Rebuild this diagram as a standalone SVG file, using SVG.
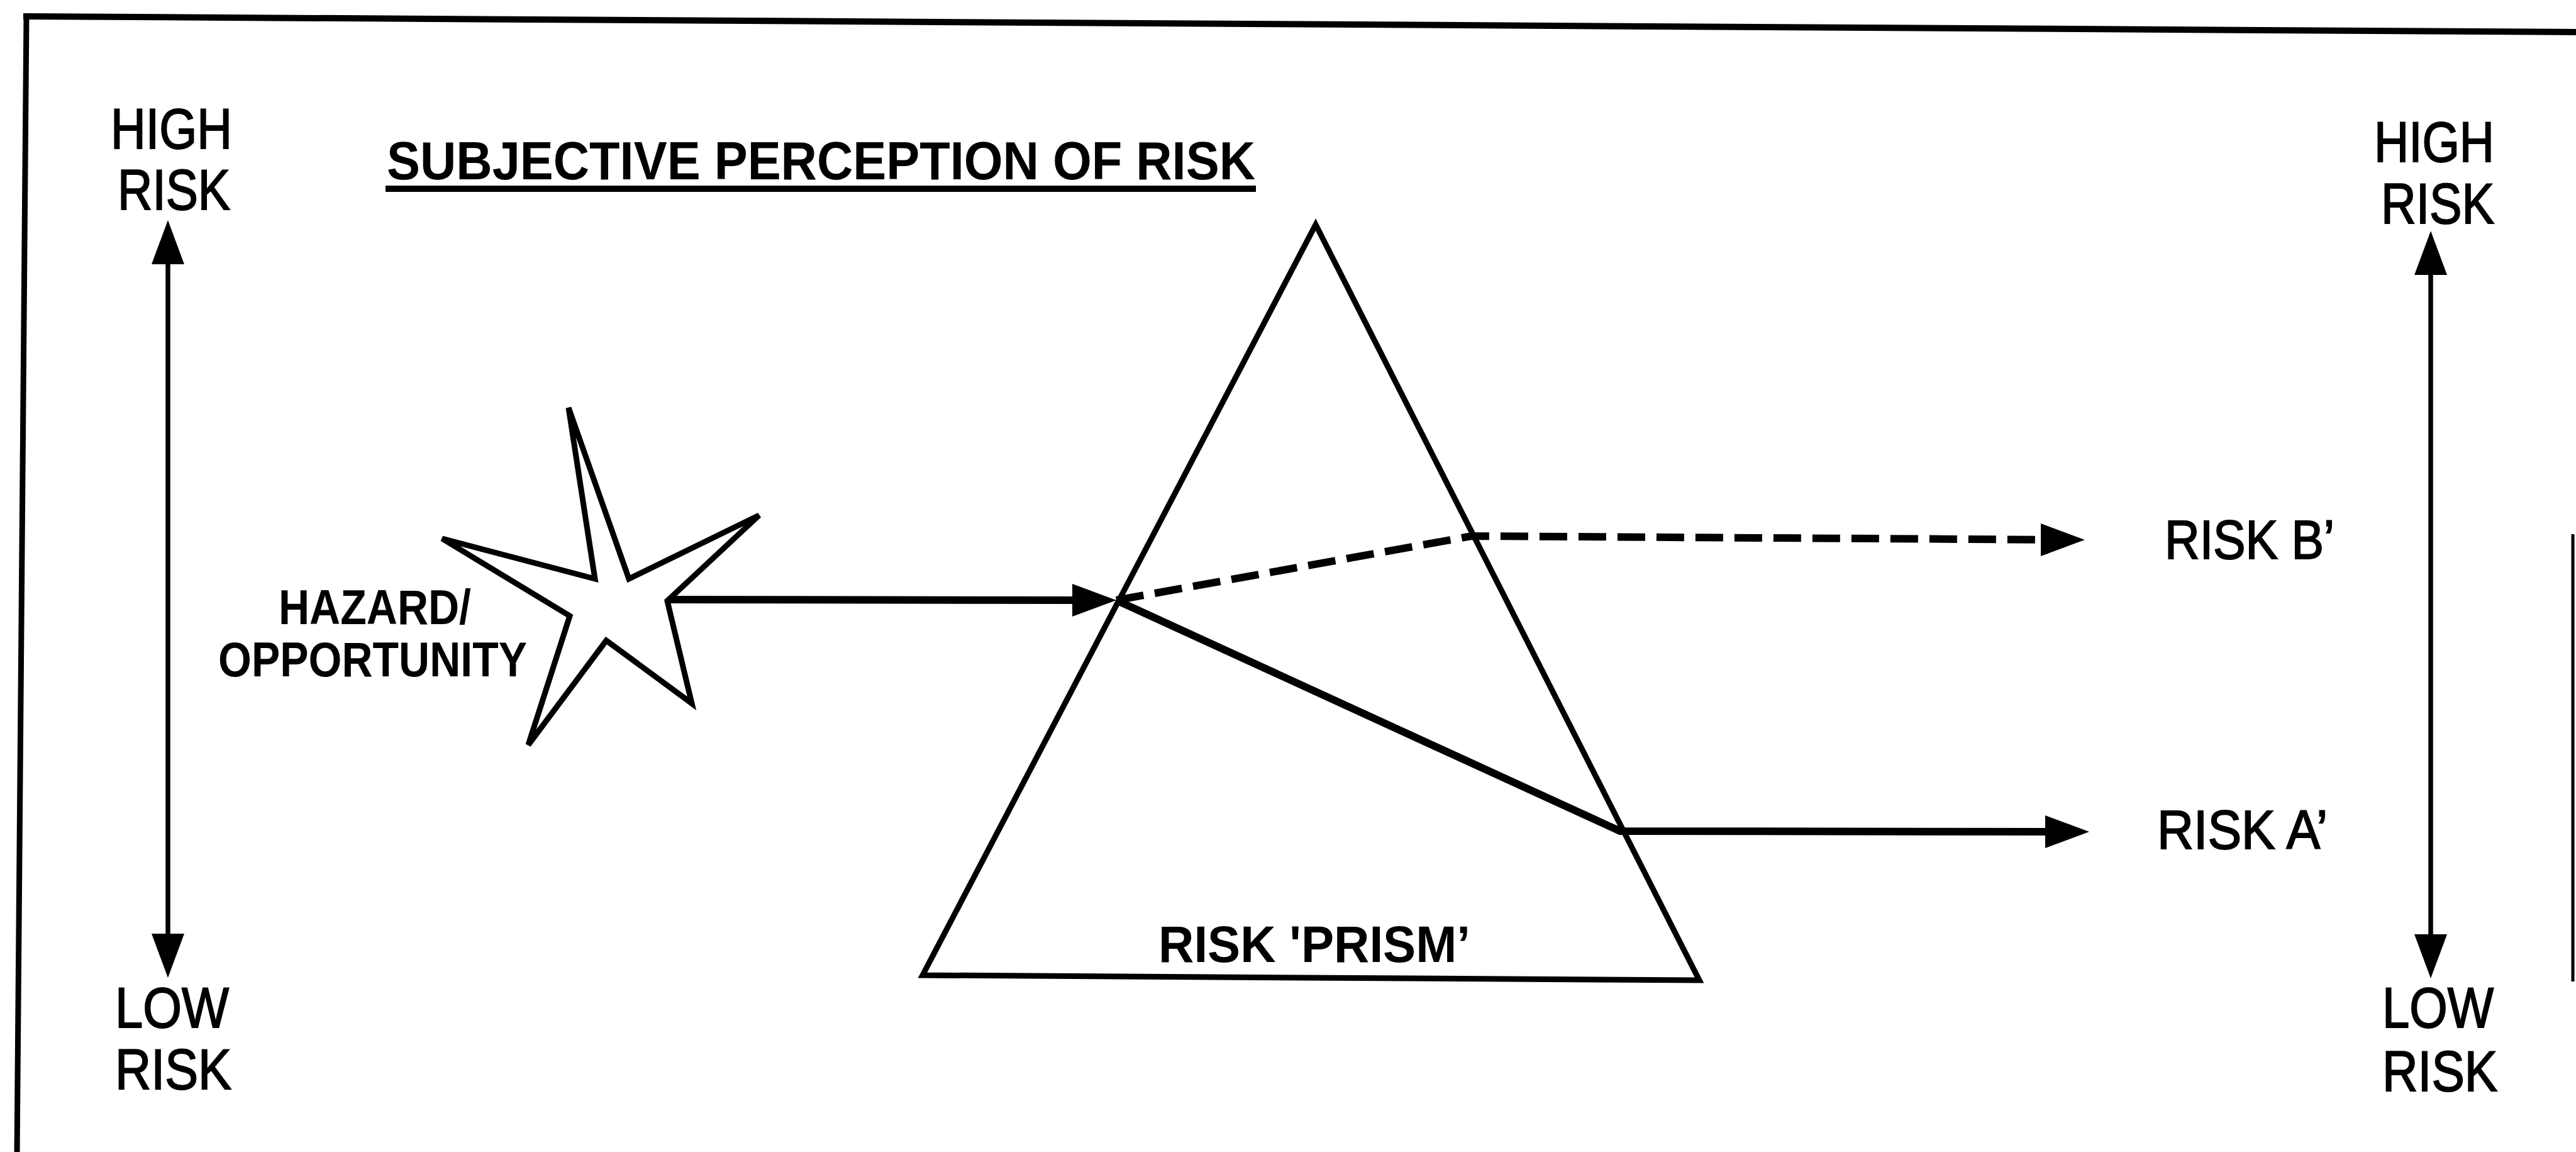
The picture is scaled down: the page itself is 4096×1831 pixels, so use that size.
<svg xmlns="http://www.w3.org/2000/svg" width="4096" height="1831" viewBox="0 0 4096 1831">
<defs>
<style>
.frame{fill:none;stroke:#000;stroke-linecap:square}
.lbl{font-family:"Liberation Sans",Arial,Helvetica,sans-serif;fill:#000}
.reg{font-size:91px;font-weight:400;stroke:#000;stroke-width:2}
.out{font-size:87px;font-weight:400;stroke:#000;stroke-width:2}
.b{font-weight:700}
.axis{fill:none;stroke:#000;stroke-width:7.5}
.ray{fill:none;stroke:#000;stroke-width:12}
.dash{stroke-dasharray:44 18}
.shape{fill:#fff;stroke:#000}
</style>
<marker id="ah" markerUnits="userSpaceOnUse" markerWidth="70" markerHeight="52" viewBox="0 0 70 52" refX="40" refY="26" orient="auto-start-reverse">
<path d="M0,0 L70,26 L0,52 z" fill="#000"/>
</marker>
</defs>
<rect width="4096" height="1831" fill="#fff"/>

<g id="frame">
<line class="frame" x1="42" y1="26" x2="4096" y2="51" stroke-width="10"/>
<line class="frame" x1="42" y1="26" x2="27" y2="1835" stroke-width="9"/>
<line x1="4091" y1="849" x2="4091" y2="1560" stroke="#000" stroke-width="5"/>
</g>

<g id="title">
<text class="lbl b" x="615" y="285" font-size="85" textLength="1381" lengthAdjust="spacingAndGlyphs">SUBJECTIVE PERCEPTION OF RISK</text>
<line x1="613" y1="300" x2="1997" y2="300" stroke="#000" stroke-width="10"/>
</g>

<g id="left-scale">
<text class="lbl reg" x="176" y="236" textLength="193" lengthAdjust="spacingAndGlyphs">HIGH</text>
<text class="lbl reg" x="187" y="333" textLength="179" lengthAdjust="spacingAndGlyphs">RISK</text>
<text class="lbl reg" x="183" y="1633" textLength="181" lengthAdjust="spacingAndGlyphs">LOW</text>
<text class="lbl reg" x="183" y="1731" textLength="185" lengthAdjust="spacingAndGlyphs">RISK</text>
</g>

<g id="right-scale">
<text class="lbl reg" x="3775" y="257" textLength="191" lengthAdjust="spacingAndGlyphs">HIGH</text>
<text class="lbl reg" x="3786" y="355" textLength="180" lengthAdjust="spacingAndGlyphs">RISK</text>
<text class="lbl reg" x="3788" y="1633" textLength="177" lengthAdjust="spacingAndGlyphs">LOW</text>
<text class="lbl reg" x="3788" y="1734" textLength="183" lengthAdjust="spacingAndGlyphs">RISK</text>
</g>

<g id="prism">
<polygon points="2092,357 2702,1558 1467,1550" style="fill:none;stroke:#000" stroke-width="9" stroke-linejoin="miter"/>
<text class="lbl b" x="1842" y="1529" font-size="82" textLength="496" lengthAdjust="spacingAndGlyphs">RISK 'PRISM’</text>
</g>

<g id="connectors">
<path class="axis" d="M267,380 L267,1524" marker-start="url(#ah)" marker-end="url(#ah)"/>
<path class="axis" d="M3865,397 L3865,1525" marker-start="url(#ah)" marker-end="url(#ah)"/>
<path class="ray" d="M1061,953 L1745,954" marker-end="url(#ah)"/>
<path class="ray" d="M1775,954 L2576,1321 L3292,1322"/>
<path d="M3280,1322 L3292,1322" fill="none" stroke="none" marker-end="url(#ah)"/>
<path class="ray dash" d="M1775,954 L2340,852 L3285,858"/>
<path d="M3275,858 L3285,858" fill="none" stroke="none" marker-end="url(#ah)"/>
</g>

<g id="hazard">
<polygon class="shape" stroke-width="9" points="904,648 1000,920 1207,819 1061,955 1100,1118 964,1018 840,1184 906,979 703,856 946,920"/>
<text class="lbl b" x="443" y="992" font-size="78" textLength="306" lengthAdjust="spacingAndGlyphs">HAZARD/</text>
<text class="lbl b" x="347" y="1075" font-size="78" textLength="491" lengthAdjust="spacingAndGlyphs">OPPORTUNITY</text>
</g>

<g id="outcomes">
<text class="lbl out" x="3442" y="888" textLength="270" lengthAdjust="spacingAndGlyphs">RISK B’</text>
<text class="lbl out" x="3430" y="1349" textLength="271" lengthAdjust="spacingAndGlyphs">RISK A’</text>
</g>
</svg>
